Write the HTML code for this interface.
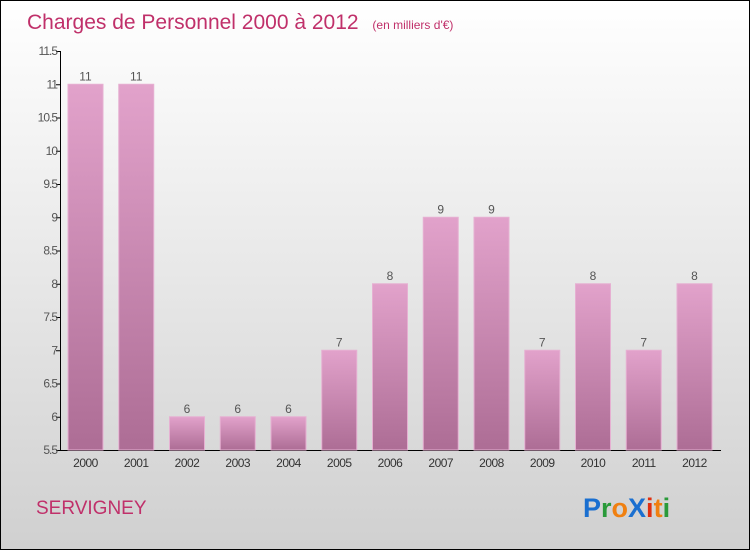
<!DOCTYPE html>
<html><head><meta charset="utf-8"><style>
body{margin:0}
#c{position:relative;width:748px;height:548px;border:1px solid #000;background:linear-gradient(#ffffff,#d0d0d0);font-family:"Liberation Sans",sans-serif;overflow:hidden}
</style></head><body>
<div id="c">
<svg width="748" height="548">
<defs><linearGradient id="g" x1="0" y1="0" x2="0" y2="1"><stop offset="0" stop-color="#e2a2cb"/><stop offset="1" stop-color="#ad6d95"/></linearGradient></defs>
<text x="26" y="28" font-size="21" fill="#c0306a">Charges de Personnel 2000 à 2012 <tspan font-size="12" dx="8">(en milliers d'€)</tspan></text>
<g id="yax"></g><g id="bars"></g>
<text x="35" y="513" font-size="19" fill="#c0306a">SERVIGNEY</text>
<text x="582" y="516" font-size="27" font-weight="bold"><tspan fill="#1a6fd0">P</tspan><tspan fill="#2a9a3a">r</tspan><tspan fill="#f08010">o</tspan><tspan fill="#1a6fd0">X</tspan><tspan fill="#e03010">i</tspan><tspan fill="#f08010">t</tspan><tspan fill="#2a9a3a">i</tspan></text>
</svg></div>
<script>
const categories=["2000","2001","2002","2003","2004","2005","2006","2007","2008","2009","2010","2011","2012"];
const values=[11,11,6,6,6,7,8,9,9,7,8,7,8];
const yTicks=[5.5,6,6.5,7,7.5,8,8.5,9,9.5,10,10.5,11,11.5];
const NS="http://www.w3.org/2000/svg";
const y=v=>449-(v-5.5)*66.5;
const x=i=>67+i*50.75;
function mk(t,a,p){const e=document.createElementNS(NS,t);for(const k in a)e.setAttribute(k,a[k]);p.appendChild(e);return e;}
const ya=document.getElementById('yax'),bg=document.getElementById('bars');
let ax=mk('path',{d:`M59.5 ${y(11.5)}V449.5H720`,stroke:'#000',fill:'none'},ya);


yTicks.forEach(v=>{
 let l=mk('line',{x1:55,x2:59,y1:y(v)+0.5,y2:y(v)+0.5,stroke:'#000'},ya);
 
 
 let t=mk('text',{x:56,y:y(v)+4,'text-anchor':'end','font-size':12,fill:'#555','letter-spacing':'-1'},ya);
 
 
 t.textContent=String(v);
});
categories.forEach((c,i)=>{
 let r=mk('rect',{x:x(i),y:y(values[i]),width:35,height:449-y(values[i]),fill:'url(#g)',stroke:'#e6b0d2','stroke-width':1},bg);
 
 
 let t=mk('text',{x:x(i)+17.5,y:y(values[i])-4,'text-anchor':'middle','font-size':12,fill:'#555'},bg);
 
 
 t.textContent=values[i];
 let l=mk('text',{x:x(i)+17.5,y:466,'text-anchor':'middle','font-size':12,fill:'#333','letter-spacing':'-0.5'},bg);
 
 
 l.textContent=c;
});
</script>
</body></html>
